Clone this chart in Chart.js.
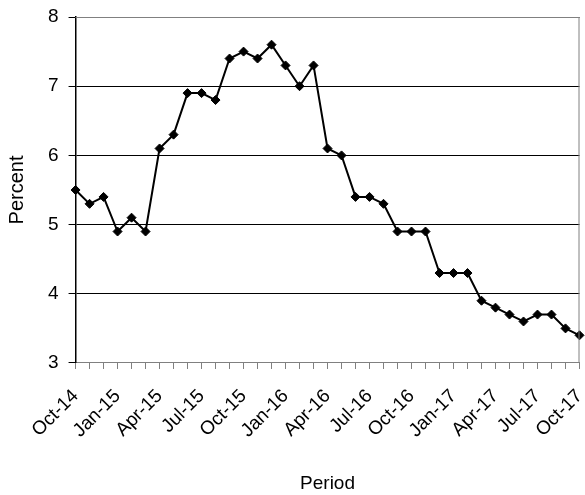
<!DOCTYPE html>
<html>
<head>
<meta charset="utf-8">
<script src="https://cdn.jsdelivr.net/npm/chart.js@4"></script>
<style>
  body { margin: 0; background: #fff; }
</style>
</head>
<body>
<canvas id="myChart" width="585" height="495"></canvas>
<script>
"use strict";

// ---- data ----
var months = [
  "Oct-14", "Nov-14", "Dec-14", "Jan-15", "Feb-15", "Mar-15", "Apr-15", "May-15", "Jun-15",
  "Jul-15", "Aug-15", "Sep-15", "Oct-15", "Nov-15", "Dec-15", "Jan-16", "Feb-16", "Mar-16",
  "Apr-16", "May-16", "Jun-16", "Jul-16", "Aug-16", "Sep-16", "Oct-16", "Nov-16", "Dec-16",
  "Jan-17", "Feb-17", "Mar-17", "Apr-17", "May-17", "Jun-17", "Jul-17", "Aug-17", "Sep-17", "Oct-17"
];
var percent = [
  5.5, 5.3, 5.4, 4.9, 5.1, 4.9, 6.1, 6.3, 6.9,
  6.9, 6.8, 7.4, 7.5, 7.4, 7.6, 7.3, 7.0, 7.3,
  6.1, 6.0, 5.4, 5.4, 5.3, 4.9, 4.9, 4.9, 4.3,
  4.3, 4.3, 3.9, 3.8, 3.7, 3.6, 3.7, 3.7, 3.5, 3.4
];
var yTicks = [3, 4, 5, 6, 7, 8];

var FONT = "'Liberation Sans', Arial, sans-serif";

// thin grey frame round the plot area (top + right side)
var plotFrame = {
  id: "plotFrame",
  afterDraw: function (chart) {
    var a = chart.chartArea, c = chart.ctx;
    c.save();
    c.strokeStyle = "#808080";
    c.lineWidth = 1;
    c.beginPath();
    c.moveTo(a.left, a.top + 0.5);
    c.lineTo(a.right - 0.5, a.top + 0.5);
    c.lineTo(a.right - 0.5, a.bottom);
    c.stroke();
    c.restore();
  }
};

var ctx = document.getElementById("myChart").getContext("2d");
new Chart(ctx, {
  type: "line",
  data: {
    labels: months,
    datasets: [{
      label: "Percent",
      data: percent,
      borderColor: "#000",
      backgroundColor: "#000",
      borderWidth: 2,
      pointStyle: "rectRot",
      pointRadius: 4.5,
      pointBackgroundColor: "#000",
      pointBorderColor: "#000",
      pointBorderWidth: 1,
      tension: 0,
      fill: false,
      clip: false
    }]
  },
  options: {
    responsive: false,
    animation: false,
    layout: { padding: { top: 17, right: 4, left: 5, bottom: 0 } },
    plugins: {
      legend: { display: false },
      tooltip: { enabled: false }
    },
    scales: {
      x: {
        type: "category",
        offset: false,
        afterFit: function (axis) { axis.paddingRight = 0; },
        grid: {
          drawOnChartArea: false,
          drawTicks: true,
          tickLength: 6,
          color: "#808080"
        },
        border: { color: "#808080", width: 1 },
        ticks: {
          autoSkip: false,
          maxRotation: 45,
          minRotation: 45,
          color: "#000",
          font: { family: FONT, size: 19 },
          padding: 16,
          callback: function (v, i) { return i % 3 === 0 ? months[i] : ""; }
        },
        title: {
          display: true,
          text: "Period",
          color: "#000",
          font: { family: FONT, size: 19 },
          padding: { top: 14, bottom: 0 }
        }
      },
      y: {
        min: 3,
        max: 8,
        afterBuildTicks: function (axis) {
          axis.ticks = yTicks.map(function (v) { return { value: v }; });
        },
        afterFit: function (axis) { axis.paddingTop = 0; },
        grid: {
          color: "#000",
          lineWidth: 1,
          drawTicks: true,
          tickLength: 7
        },
        border: { color: "#000", width: 1.5 },
        ticks: {
          color: "#000",
          font: { family: FONT, size: 19 },
          padding: 10
        },
        title: {
          display: true,
          text: "Percent",
          color: "#000",
          font: { family: FONT, size: 20 },
          padding: { top: 0, bottom: 9 }
        }
      }
    }
  },
  plugins: [plotFrame]
});
</script>
</body>
</html>
